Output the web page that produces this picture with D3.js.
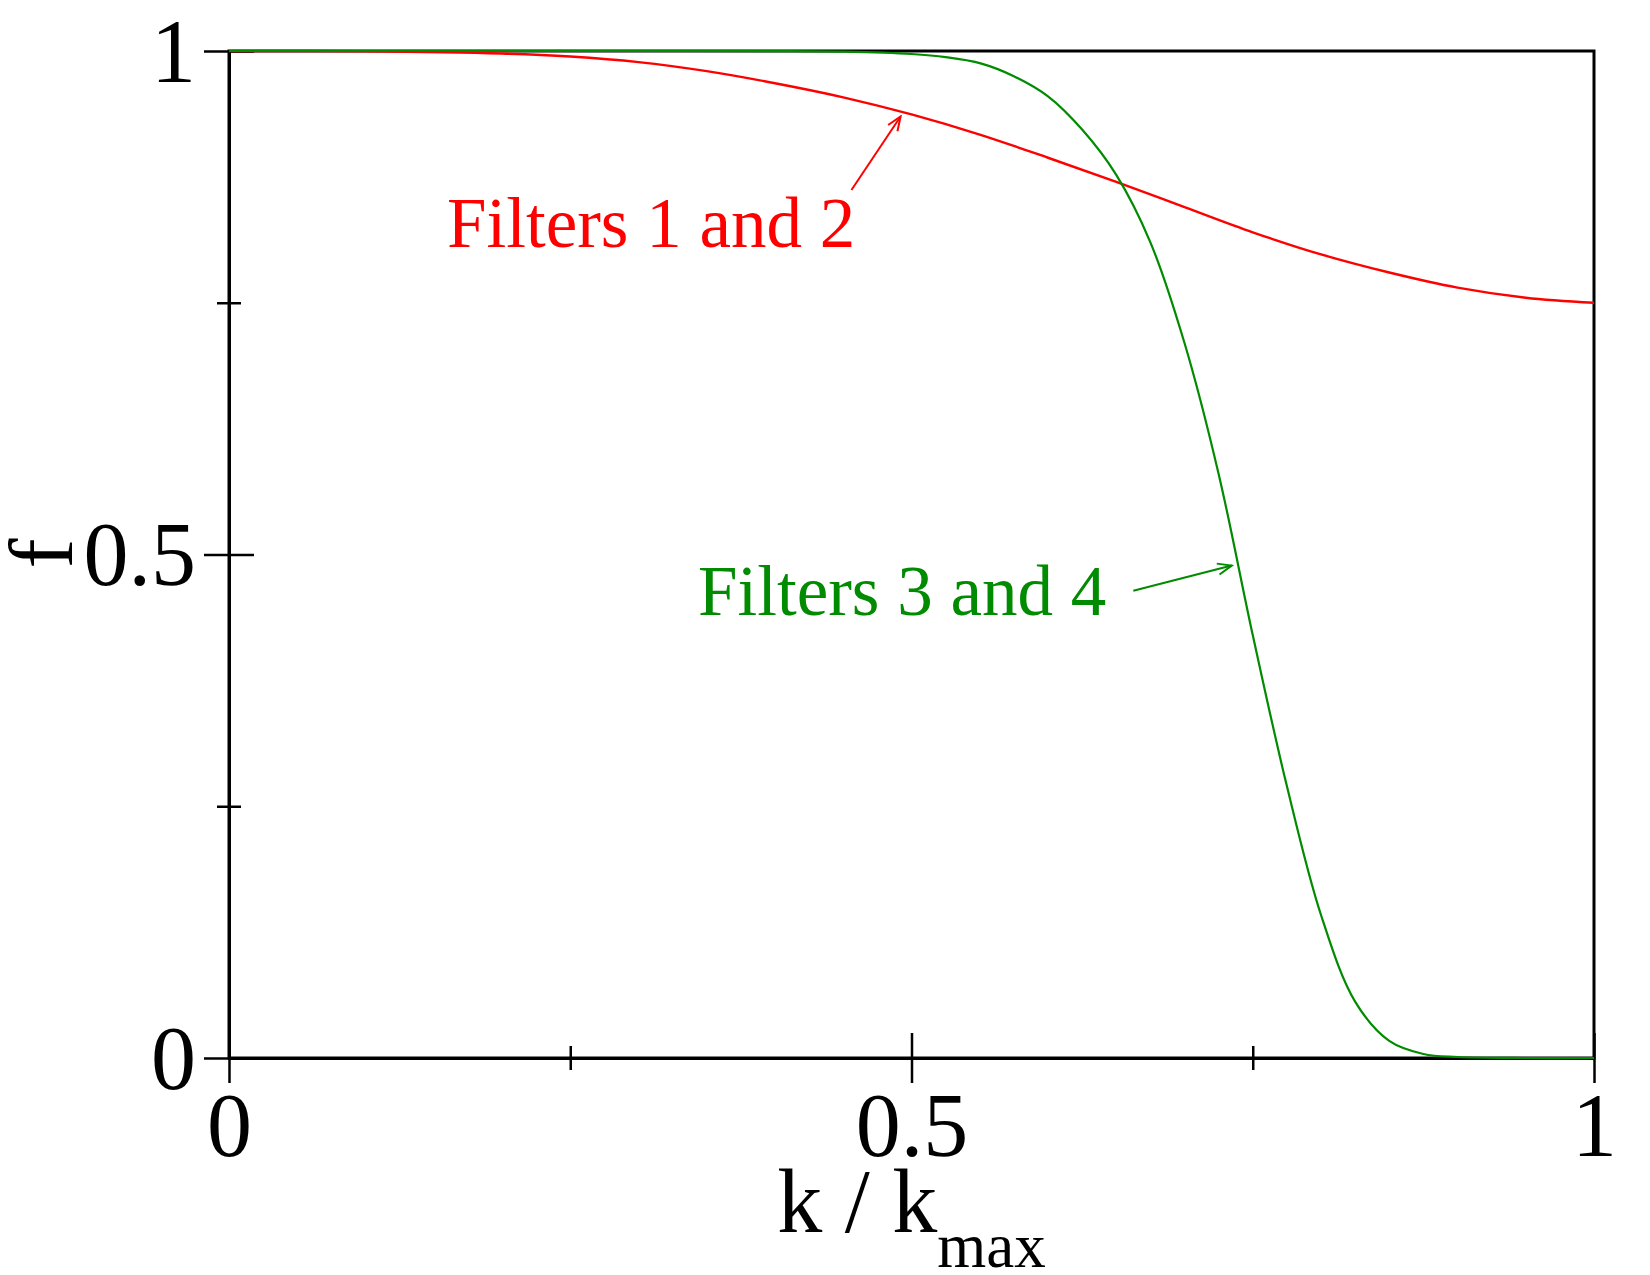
<!DOCTYPE html>
<html>
<head>
<meta charset="utf-8">
<script src="https://cdn.jsdelivr.net/npm/d3@7"></script>
<style>
html, body { margin: 0; padding: 0; background: #fff; }
svg { display: block; }
text { font-family: "Liberation Serif", "Times New Roman", serif; }
</style>
</head>
<body>
<svg id="chart" width="1650" height="1275"></svg>
<script>
'use strict';

// filters 1 and 2 (red)
const redK = [0, 0.1, 0.2, 0.25, 0.3, 0.35, 0.4, 0.45, 0.5, 0.55, 0.6, 0.65, 0.7, 0.75, 0.8, 0.85, 0.9, 0.95, 1];
const redF = [1, 0.9998, 0.9975, 0.9945, 0.989, 0.980, 0.968, 0.954, 0.937, 0.917, 0.894, 0.870, 0.845, 0.820, 0.798, 0.780, 0.765, 0.755, 0.75];

// filters 3 and 4 (green)
const greenK = [0, 0.2, 0.3, 0.4, 0.45, 0.5, 0.525, 0.55, 0.575, 0.6, 0.625, 0.65, 0.675, 0.7, 0.725, 0.75, 0.775, 0.8, 0.825, 0.85, 0.875, 0.9, 0.95, 1];
const greenF = [1, 1, 1, 0.9999, 0.9993, 0.997, 0.994, 0.988, 0.975, 0.955, 0.922, 0.877, 0.810, 0.710, 0.580, 0.420, 0.270, 0.142, 0.056, 0.017, 0.004, 0.001, 0, 0];

const majorTicks = [0, 0.5, 1];
const minorTicks = [0.25, 0.75];

const xLabel = "k / k";
const xLabelSub = "max";
const yLabel = "f";

const labels = [
	{text: "Filters 1 and 2", color: "#ff0000", k: 0.1597, f: 0.805, fromK: 0.456, fromF: 0.862, toK: 0.492, toF: 0.935},
	{text: "Filters 3 and 4", color: "#008b00", k: 0.3436, f: 0.440, fromK: 0.6625, fromF: 0.464, toK: 0.7346, toF: 0.489}
];

let svg = d3.select("#chart");
svg.append("rect").attr("width", 1650).attr("height", 1275).attr("fill", "#fff");

let x = d3.scaleLinear().domain([0, 1]).range([229, 1594]);
let y = d3.scaleLinear().domain([0, 1]).range([1058, 51]);

let fmt = function (d) { return String(d); };

// x axis, major ticks cross the axis
let gx = svg.append("g").attr("transform", "translate(0," + y(0) + ")")
	.call(d3.axisBottom(x).tickValues(majorTicks).tickSize(25).tickSizeOuter(0).tickFormat(fmt));
gx.selectAll(".tick line").attr("y1", -25).attr("stroke-width", 2.5);
gx.selectAll(".tick text").attr("y", 98).attr("dy", null)
	.attr("font-size", 90).attr("font-family", "Liberation Serif").attr("fill", "#000");
let gxm = svg.append("g").attr("transform", "translate(0," + y(0) + ")")
	.call(d3.axisBottom(x).tickValues(minorTicks).tickSize(12).tickSizeOuter(0).tickFormat(""));
gxm.select(".domain").remove();
gxm.selectAll(".tick line").attr("y1", -12).attr("stroke-width", 2.5);

// y axis
let gy = svg.append("g").attr("transform", "translate(" + x(0) + ",0)")
	.call(d3.axisLeft(y).tickValues(majorTicks).tickSize(25).tickSizeOuter(0).tickFormat(fmt));
gy.selectAll(".tick line").attr("x1", 25).attr("stroke-width", 2.5);
gy.selectAll(".tick text").attr("x", -33).attr("dy", null).attr("y", 30)
	.attr("font-size", 90).attr("font-family", "Liberation Serif").attr("fill", "#000");
let gym = svg.append("g").attr("transform", "translate(" + x(0) + ",0)")
	.call(d3.axisLeft(y).tickValues(minorTicks).tickSize(12).tickSizeOuter(0).tickFormat(""));
gym.select(".domain").remove();
gym.selectAll(".tick line").attr("x1", 12).attr("stroke-width", 2.5);

svg.selectAll(".domain").attr("stroke-width", 3);

// frame
svg.append("rect")
	.attr("x", x(0)).attr("y", y(1))
	.attr("width", x(1) - x(0)).attr("height", y(0) - y(1))
	.attr("fill", "none").attr("stroke", "#000").attr("stroke-width", 3);

// axis titles
let xt = svg.append("text")
	.attr("x", (x(0) + x(1)) / 2).attr("y", 1232)
	.attr("text-anchor", "middle").attr("font-size", 90);
xt.append("tspan").text(xLabel);
xt.append("tspan").attr("dy", 35).attr("font-size", 63).text(xLabelSub);

svg.append("text")
	.attr("transform", "translate(72," + ((y(0) + y(1)) / 2 - 1) + ") rotate(-90)")
	.attr("text-anchor", "middle").attr("font-size", 90)
	.text(yLabel);

// curves
let line = d3.line()
	.x(function (d) { return x(d[0]); })
	.y(function (d) { return y(d[1]); })
	.curve(d3.curveCatmullRom.alpha(0.5));

svg.append("path")
	.datum(redK.map(function (k, i) { return [k, redF[i]]; }))
	.attr("d", line).attr("fill", "none")
	.attr("stroke", "#ff0000").attr("stroke-width", 2.4);

svg.append("path")
	.datum(greenK.map(function (k, i) { return [k, greenF[i]]; }))
	.attr("d", line).attr("fill", "none")
	.attr("stroke", "#008b00").attr("stroke-width", 2.2);

// labels with arrows
let defs = svg.append("defs");
labels.forEach(function (l, i) {
	defs.append("marker")
		.attr("id", "arrow" + i)
		.attr("markerUnits", "userSpaceOnUse")
		.attr("viewBox", "-16 -8 18 16")
		.attr("refX", 0).attr("refY", 0)
		.attr("markerWidth", 18).attr("markerHeight", 16)
		.attr("orient", "auto")
		.append("path")
		.attr("d", "M-14,-5.6L0,0L-14,5.6")
		.attr("fill", "none").attr("stroke", l.color).attr("stroke-width", 2);

	svg.append("text")
		.attr("x", x(l.k)).attr("y", y(l.f))
		.attr("font-size", 71).attr("fill", l.color)
		.text(l.text);

	svg.append("line")
		.attr("x1", x(l.fromK)).attr("y1", y(l.fromF))
		.attr("x2", x(l.toK)).attr("y2", y(l.toF))
		.attr("stroke", l.color).attr("stroke-width", 2)
		.attr("marker-end", "url(#arrow" + i + ")");
});
</script>
</body>
</html>
